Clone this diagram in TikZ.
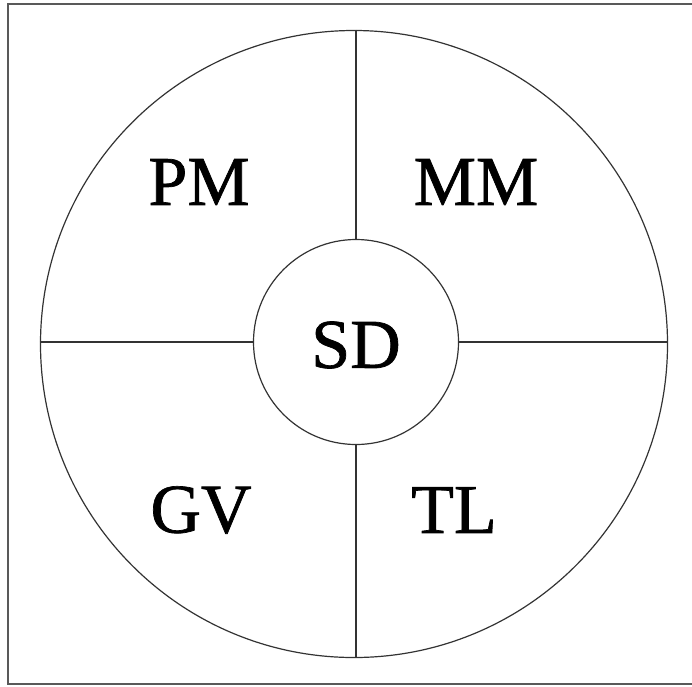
\documentclass[tikz,border=0pt]{standalone}
\usepackage{fontspec}
\setmainfont{Liberation Serif}
\newfontfamily\lblfont{Liberation Serif}[BoldFont=Liberation Serif, BoldFeatures={FakeBold=1.0}]
\begin{document}
\begin{tikzpicture}[x=1pt,y=-1pt,
  ring/.style={draw=black!80, line width=1.2pt, circle, inner sep=0pt},
  divider/.style={draw=black!80, line width=1.2pt},
  frameline/.style={draw=black!65, line width=2pt},
  lbl/.style={font=\lblfont\bfseries\fontsize{70}{84}\selectfont, inner sep=0pt, text=black}]
\useasboundingbox (0,0) rectangle (692,686);
\fill[white] (0,0) rectangle (692,686);
% frame (open on the right)
\draw[frameline] (700,4) -- (8,4) -- (8,684) -- (700,684);
% circles
\node[ring, minimum size=627pt] (outer) at (354,344) {};
\node[ring, minimum size=205pt] (inner) at (356,342) {};
% dividers
\draw[divider] (outer.north -| inner.center) -- (inner.north);
\draw[divider] (inner.south) -- (outer.south -| inner.center);
\draw[divider] (outer.west |- inner.center) -- (inner.west);
\draw[divider] (inner.east) -- (outer.east |- inner.center);
% labels
\node[lbl] (sd) at (356,345) {SD};
\node[lbl] (pm) at (199,182) {PM};
\node[lbl] (mm) at (476,182) {MM};
\node[lbl] (gv) at (201,510) {GV};
\node[lbl] (tl) at (454,510) {TL};
\end{tikzpicture}
\end{document}
